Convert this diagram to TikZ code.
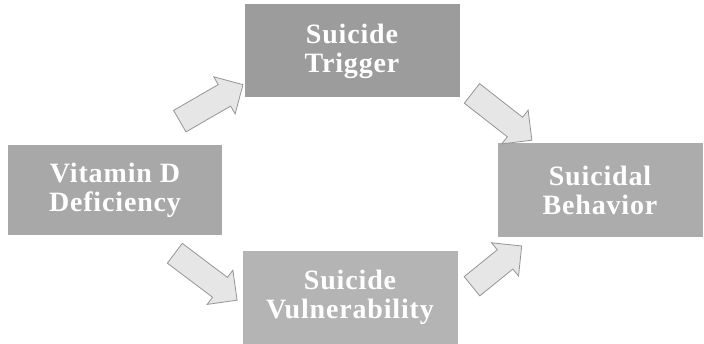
\documentclass[tikz,border=0pt]{standalone}
\usepackage{fontspec}
\setmainfont{Liberation Serif}[LetterSpace=3]
\usetikzlibrary{shapes.arrows}
\definecolor{boxA}{HTML}{A8A8A8}
\definecolor{boxB}{HTML}{9C9C9C}
\definecolor{boxC}{HTML}{ACACAC}
\definecolor{boxD}{HTML}{B4B4B4}
\definecolor{arrfill}{HTML}{E6E6E6}
\definecolor{arrdraw}{HTML}{959595}
\tikzset{
  box/.style={rectangle, inner sep=0pt, align=center, text=white,
    font=\fontsize{28}{29}\selectfont\bfseries},
  blockarrow/.style={single arrow, fill=arrfill, draw=arrdraw, line width=0.8pt,
    inner xsep=0pt, inner ysep=12pt, text height=0pt, text depth=0pt,
    single arrow head extend=9pt, single arrow head indent=0pt}
}
\begin{document}
\begin{tikzpicture}[x=1pt,y=1pt]
\useasboundingbox (0,0) rectangle (704,343);
\fill[white] (0,0) rectangle (704,343);
\node[box, fill=boxA, minimum width=214, minimum height=90] (vit) at (115,153) {Vitamin D\\Deficiency};
\node[box, fill=boxB, minimum width=215, minimum height=93] (trig) at (352,292) {Suicide\\Trigger};
\node[box, fill=boxC, minimum width=205, minimum height=94] (beh) at (600,153) {Suicidal\\Behavior};
\node[box, fill=boxD, minimum width=215, minimum height=93] (vul) at (350,46) {Suicide\\Vulnerability};
\node[blockarrow, minimum height=73, rotate=30] (a1) at (206,237) {};
\node[blockarrow, minimum height=76, rotate=-38] (a2) at (497,230) {};
\node[blockarrow, minimum height=78, rotate=-37] (a3) at (201,70) {};
\node[blockarrow, minimum height=64, rotate=39] (a4) at (492,73) {};
\end{tikzpicture}
\end{document}
